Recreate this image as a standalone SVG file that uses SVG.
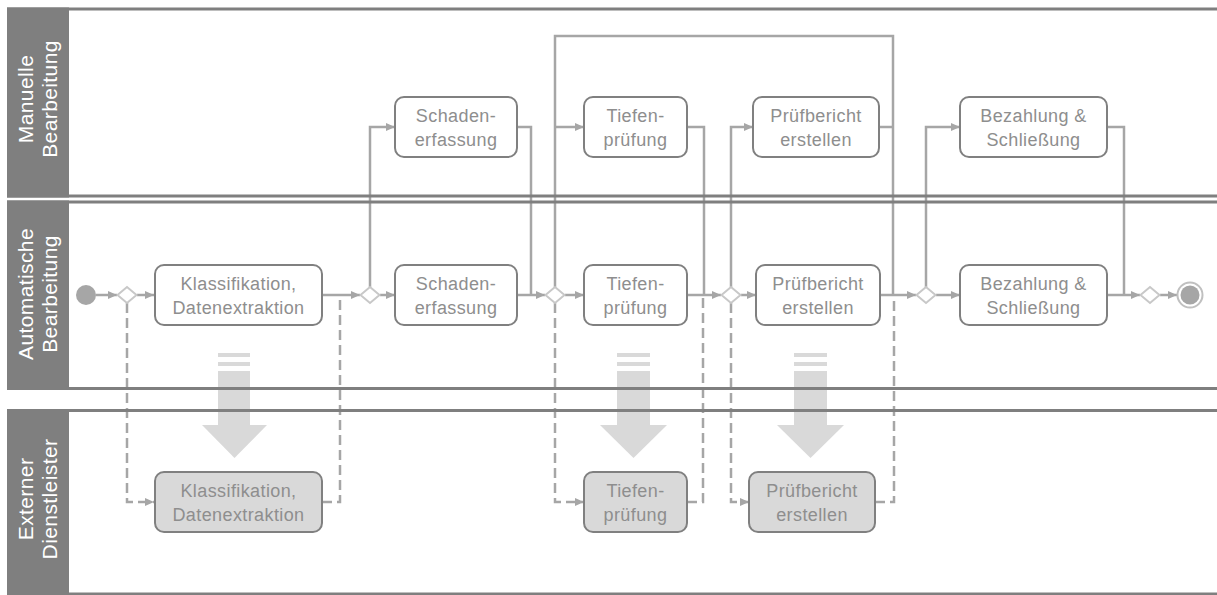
<svg xmlns="http://www.w3.org/2000/svg" width="1217" height="595" viewBox="0 0 1217 595">
<defs>
<marker id="ah" markerUnits="userSpaceOnUse" markerWidth="10" markerHeight="9" refX="9" refY="4" orient="auto">
<path d="M0 0 L9 4 L0 8 z" fill="#a6a6a6"/>
</marker>
<style>
.lane{fill:none;stroke:#7f7f7f;stroke-width:3}
.hdr{fill:#7f7f7f}
.htxt{font-family:"Liberation Sans",Arial,sans-serif;font-size:21px;fill:#ffffff;text-anchor:middle;letter-spacing:0.4px}
.task{fill:#ffffff;stroke:#808080;stroke-width:2}
.ext{fill:#d9d9d9;stroke:#808080;stroke-width:2}
.ttxt{font-family:"Liberation Sans",Arial,sans-serif;font-size:18px;fill:#8e8e8e;text-anchor:middle;letter-spacing:0.4px}
.flow{fill:none;stroke:#a6a6a6;stroke-width:2.5}
.dash{fill:none;stroke:#a6a6a6;stroke-width:2.5;stroke-dasharray:10 5}
.gw{fill:#ffffff;stroke:#c8c8c8;stroke-width:2}
.big{fill:#d9d9d9}
</style>
</defs>
<rect x="0" y="0" width="1217" height="595" fill="#ffffff"/>

<g id="transfer-arrows">
<g id="big-arrow-1">
<rect class="big" x="218" y="353" width="32" height="4"/>
<rect class="big" x="218" y="362" width="32" height="4"/>
<rect class="big" x="218" y="371" width="32" height="55"/>
<polygon class="big" points="202,425 267,425 234.5,458"/>
</g>
<g id="big-arrow-2">
<rect class="big" x="617" y="353" width="33" height="4"/>
<rect class="big" x="617" y="362" width="33" height="4"/>
<rect class="big" x="617" y="371" width="33" height="55"/>
<polygon class="big" points="600,425 667,425 633.5,458"/>
</g>
<g id="big-arrow-3">
<rect class="big" x="794" y="353" width="33" height="4"/>
<rect class="big" x="794" y="362" width="33" height="4"/>
<rect class="big" x="794" y="371" width="33" height="55"/>
<polygon class="big" points="777,425 844,425 810.5,458"/>
</g>
</g>

<g id="connectors">
<path class="flow" d="M96 295 H117" marker-end="url(#ah)"/>
<path class="flow" d="M137 295 H154" marker-end="url(#ah)"/>
<path class="flow" d="M322 295 H360" marker-end="url(#ah)"/>
<path class="flow" d="M380 295 H395" marker-end="url(#ah)"/>
<path class="flow" d="M370 287 V127 H395" marker-end="url(#ah)"/>
<path class="flow" d="M517 127 H531 V295"/>
<path class="flow" d="M517 295 H545" marker-end="url(#ah)"/>
<path class="flow" d="M555 287 V36 H893 V295"/>
<path class="flow" d="M555 127 H584" marker-end="url(#ah)"/>
<path class="flow" d="M565 295 H584" marker-end="url(#ah)"/>
<path class="flow" d="M687 127 H704 V295"/>
<path class="flow" d="M687 295 H721" marker-end="url(#ah)"/>
<path class="flow" d="M731 287 V127 H753" marker-end="url(#ah)"/>
<path class="flow" d="M741 295 H756" marker-end="url(#ah)"/>
<path class="flow" d="M879 127 H893"/>
<path class="flow" d="M880 295 H916" marker-end="url(#ah)"/>
<path class="flow" d="M926 287 V127 H960" marker-end="url(#ah)"/>
<path class="flow" d="M936 295 H960" marker-end="url(#ah)"/>
<path class="flow" d="M1107 127 H1124 V295"/>
<path class="flow" d="M1107 295 H1140" marker-end="url(#ah)"/>
<path class="flow" d="M1160 295 H1177" marker-end="url(#ah)"/>
<path class="dash" d="M127 303 V502 H154" marker-end="url(#ah)"/>
<path class="dash" d="M322 502 H340 V295"/>
<path class="dash" d="M555 303 V502 H584" marker-end="url(#ah)"/>
<path class="dash" d="M687 502 H703 V295"/>
<path class="dash" d="M731 303 V502 H749" marker-end="url(#ah)"/>
<path class="dash" d="M875 502 H894 V295"/>
</g>

<g id="lane-manuell">
<rect class="lane" x="8.5" y="9" width="1215" height="187"/>
<rect class="hdr" x="7" y="7.5" width="62" height="190"/>
<g transform="translate(0,99) rotate(-90)">
<text class="htxt" x="0" y="33">Manuelle</text>
<text class="htxt" x="0" y="57">Bearbeitung</text>
</g>
</g>
<g id="lane-automatisch">
<rect class="lane" x="8.5" y="202" width="1215" height="186.5"/>
<rect class="hdr" x="7" y="200.5" width="62" height="189.5"/>
<g transform="translate(0,294) rotate(-90)">
<text class="htxt" x="0" y="33">Automatische</text>
<text class="htxt" x="0" y="57">Bearbeitung</text>
</g>
</g>
<g id="lane-extern">
<rect class="lane" x="8.5" y="410.5" width="1215" height="183.5"/>
<rect class="hdr" x="7" y="409" width="62" height="190"/>
<g transform="translate(0,499) rotate(-90)">
<text class="htxt" x="0" y="33">Externer</text>
<text class="htxt" x="0" y="57">Dienstleister</text>
</g>
</g>

<g id="start"><circle cx="86" cy="295" r="10" fill="#a6a6a6"/></g>
<g id="gw1"><polygon class="gw" points="117.5,295 127,287 136.5,295 127,303"/></g>
<g id="gw2"><polygon class="gw" points="360.5,295 370,287 379.5,295 370,303"/></g>
<g id="gw3"><polygon class="gw" points="545.5,295 555,287 564.5,295 555,303"/></g>
<g id="gw4"><polygon class="gw" points="721.5,295 731,287 740.5,295 731,303"/></g>
<g id="gw5"><polygon class="gw" points="916.5,295 926,287 935.5,295 926,303"/></g>
<g id="gw6"><polygon class="gw" points="1140.5,295 1150,287 1159.5,295 1150,303"/></g>
<g id="end">
<circle cx="1190" cy="295" r="12.5" fill="#ffffff" stroke="#c0c0c0" stroke-width="2"/>
<circle cx="1190" cy="295" r="9.5" fill="#a6a6a6"/>
</g>

<g id="m-schaden">
<rect class="task" x="395" y="97" width="122" height="60" rx="9"/>
<text class="ttxt" x="456" y="122">Schaden-</text>
<text class="ttxt" x="456" y="146">erfassung</text>
</g>
<g id="m-tiefen">
<rect class="task" x="584" y="97" width="103" height="60" rx="9"/>
<text class="ttxt" x="635.5" y="122">Tiefen-</text>
<text class="ttxt" x="635.5" y="146">prüfung</text>
</g>
<g id="m-pruef">
<rect class="task" x="753" y="97" width="126" height="60" rx="9"/>
<text class="ttxt" x="816" y="122">Prüfbericht</text>
<text class="ttxt" x="816" y="146">erstellen</text>
</g>
<g id="m-bezahlung">
<rect class="task" x="960" y="97" width="147" height="60" rx="9"/>
<text class="ttxt" x="1033.5" y="122">Bezahlung &amp;</text>
<text class="ttxt" x="1033.5" y="146">Schließung</text>
</g>

<g id="a-klass">
<rect class="task" x="155" y="265" width="167" height="60" rx="9"/>
<text class="ttxt" x="238.5" y="290">Klassifikation,</text>
<text class="ttxt" x="238.5" y="314">Datenextraktion</text>
</g>
<g id="a-schaden">
<rect class="task" x="395" y="265" width="122" height="60" rx="9"/>
<text class="ttxt" x="456" y="290">Schaden-</text>
<text class="ttxt" x="456" y="314">erfassung</text>
</g>
<g id="a-tiefen">
<rect class="task" x="584" y="265" width="103" height="60" rx="9"/>
<text class="ttxt" x="635.5" y="290">Tiefen-</text>
<text class="ttxt" x="635.5" y="314">prüfung</text>
</g>
<g id="a-pruef">
<rect class="task" x="756" y="265" width="124" height="60" rx="9"/>
<text class="ttxt" x="818" y="290">Prüfbericht</text>
<text class="ttxt" x="818" y="314">erstellen</text>
</g>
<g id="a-bezahlung">
<rect class="task" x="960" y="265" width="147" height="60" rx="9"/>
<text class="ttxt" x="1033.5" y="290">Bezahlung &amp;</text>
<text class="ttxt" x="1033.5" y="314">Schließung</text>
</g>

<g id="e-klass">
<rect class="ext" x="155" y="472" width="167" height="60" rx="9"/>
<text class="ttxt" x="238.5" y="497">Klassifikation,</text>
<text class="ttxt" x="238.5" y="521">Datenextraktion</text>
</g>
<g id="e-tiefen">
<rect class="ext" x="584" y="472" width="103" height="60" rx="9"/>
<text class="ttxt" x="635.5" y="497">Tiefen-</text>
<text class="ttxt" x="635.5" y="521">prüfung</text>
</g>
<g id="e-pruef">
<rect class="ext" x="749" y="472" width="126" height="60" rx="9"/>
<text class="ttxt" x="812" y="497">Prüfbericht</text>
<text class="ttxt" x="812" y="521">erstellen</text>
</g>
</svg>
